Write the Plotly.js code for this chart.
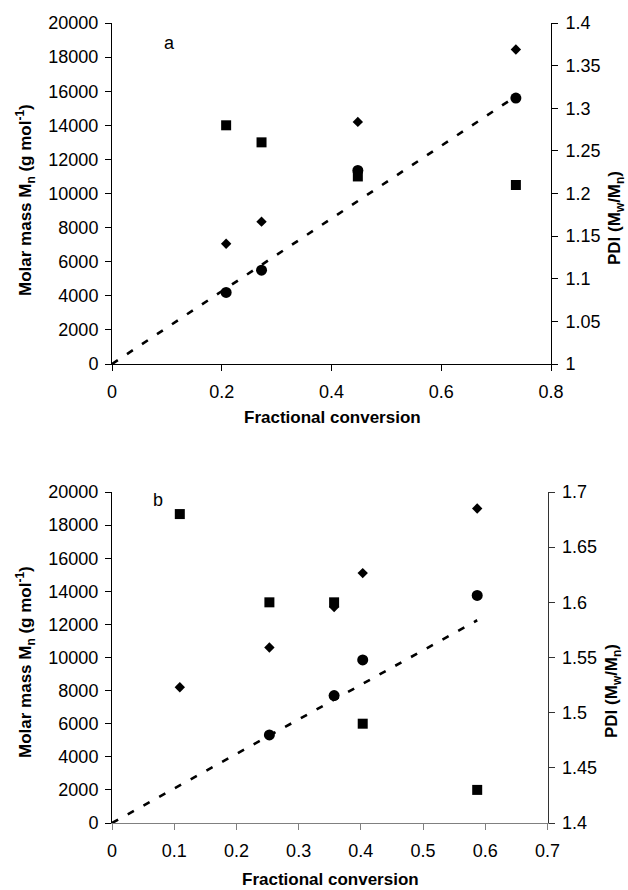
<!DOCTYPE html>
<html>
<head>
<meta charset="utf-8">
<script src="https://cdn.plot.ly/plotly-3.0.1.min.js"></script>
<style>
  html, body { margin: 0; padding: 0; background: #fff; }
  #chart { width: 628px; height: 890px; }
</style>
</head>
<body>
<div id="chart"></div>
<script>
// Panel a: fractional conversion vs molar mass (left axis) and PDI (right axis)
const convA = [0.208, 0.2725, 0.448, 0.736];
const mnDiamondA = [7050, 8350, 14200, 18450];
const mnCircleA = [4200, 5500, 11350, 15600];
const pdiA = [1.28, 1.26, 1.22, 1.21];
const theoryConvA = [0, 0.736];
const theoryMnA = [0, 15700];

// Panel b
const convB = [0.109, 0.253, 0.357, 0.403, 0.587];
const mnDiamondB = [8200, 10600, 13050, 15100, 19000];
const convCircleB = [0.253, 0.357, 0.403, 0.587];
const mnCircleB = [5320, 7700, 9850, 13750];
const pdiB = [1.68, 1.60, 1.60, 1.49, 1.43];
const theoryConvB = [0, 0.587];
const theoryMnB = [0, 12250];

const FONT = 'Liberation Sans, Arial, sans-serif';
const tickFont = { family: FONT, size: 18, color: '#000' };

function marker(symbol, size) {
  return { symbol: symbol, size: size, color: '#000', line: { width: 0 } };
}

const dashed = { color: '#000', width: 2.6, dash: '7px,11px' };

const traces = [
  // panel a
  { x: theoryConvA, y: theoryMnA, xaxis: 'x', yaxis: 'y', mode: 'lines', line: dashed },
  { x: convA, y: mnDiamondA, xaxis: 'x', yaxis: 'y', mode: 'markers', marker: marker('diamond', 8) },
  { x: convA, y: mnCircleA, xaxis: 'x', yaxis: 'y', mode: 'markers', marker: marker('circle', 11) },
  { x: convA, y: pdiA, xaxis: 'x', yaxis: 'y2', mode: 'markers', marker: marker('square', 10) },
  // panel b
  { x: theoryConvB, y: theoryMnB, xaxis: 'x2', yaxis: 'y3', mode: 'lines', line: dashed },
  { x: convB, y: pdiB, xaxis: 'x2', yaxis: 'y4', mode: 'markers', marker: marker('square', 10) },
  { x: convB, y: mnDiamondB, xaxis: 'x2', yaxis: 'y3', mode: 'markers', marker: marker('diamond', 8) },
  { x: convCircleB, y: mnCircleB, xaxis: 'x2', yaxis: 'y3', mode: 'markers', marker: marker('circle', 11) }
];

function axis(extra) {
  return Object.assign({
    showgrid: false, zeroline: false, showline: true, linecolor: '#000', linewidth: 1,
    ticks: 'outside', ticklen: 6, tickwidth: 1, tickcolor: '#000',
    tickfont: tickFont, automargin: false, fixedrange: true
  }, extra);
}

const W = 628, H = 890;
const px = v => v / W;
const py = v => 1 - v / H;

const layout = {
  width: W, height: H,
  margin: { l: 0, r: 0, t: 0, b: 0 },
  paper_bgcolor: '#fff', plot_bgcolor: 'rgba(0,0,0,0)',
  showlegend: false,
  xaxis: axis({ domain: [px(112), px(551)], range: [0, 0.8], tick0: 0, dtick: 0.2, anchor: 'y',
                ticklabelstandoff: 5 }),
  yaxis: axis({ domain: [py(364), py(23)], range: [0, 20000], dtick: 2000, tickformat: 'd', anchor: 'x',
                ticklabelstandoff: 3 }),
  yaxis2: axis({ overlaying: 'y', side: 'right', anchor: 'x', range: [1, 1.4], dtick: 0.05, tick0: 1,
                 ticklabelstandoff: 4 }),
  xaxis2: axis({ domain: [px(112), px(547.5)], range: [0, 0.7], tick0: 0, dtick: 0.1, anchor: 'y3',
                 linecolor: '#808080', tickcolor: '#808080', ticklabelstandoff: 5 }),
  yaxis3: axis({ domain: [py(823), py(492)], range: [0, 20000], dtick: 2000, tickformat: 'd', anchor: 'x2',
                 ticklabelstandoff: 3 }),
  yaxis4: axis({ overlaying: 'y3', side: 'right', anchor: 'x2', range: [1.4, 1.7], dtick: 0.05, tick0: 1.4,
                 linecolor: '#333', tickcolor: '#333', ticklabelstandoff: 4 }),
  annotations: []
};

function note(text, x, y, opts) {
  layout.annotations.push(Object.assign({
    text: text, xref: 'paper', yref: 'paper', x: px(x), y: py(y),
    xanchor: 'center', yanchor: 'middle', showarrow: false,
    font: { family: FONT, size: 18, color: '#000' }
  }, opts || {}));
}

const bold = { family: FONT, size: 17, color: '#000', weight: 'bold' };
const mnTitle = '<b>Molar mass M<sub>n</sub> (g mol<sup>-1</sup>)</b>';
const pdiTitle = '<b>PDI (M<sub>w</sub>/M<sub>n</sub>)</b>';

// panel a titles
note(mnTitle, 25, 200, { textangle: -90, font: bold });
note(pdiTitle, 616, 218, { textangle: -90, font: bold });
note('<b>Fractional conversion</b>', 332, 418, { font: bold });
note('a', 169, 43);
// panel b titles
note(mnTitle, 25, 662, { textangle: -90, font: bold });
note(pdiTitle, 613, 691, { textangle: -90, font: bold });
note('<b>Fractional conversion</b>', 330, 879, { font: bold });
note('b', 158, 500);

Plotly.newPlot('chart', traces, layout, { staticPlot: true, displayModeBar: false });
</script>
</body>
</html>
